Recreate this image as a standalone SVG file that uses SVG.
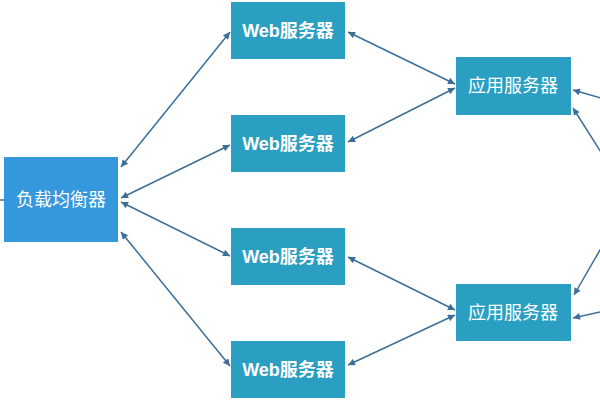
<svg xmlns="http://www.w3.org/2000/svg" width="600" height="400" viewBox="0 0 600 400">
<style>
.box{fill:#2b9fc2;}
.lb{fill:#3597dc;}
.t{font-family:"Liberation Sans","Noto Sans CJK SC",sans-serif;font-size:18px;fill:#ffffff;text-anchor:middle;dominant-baseline:central;font-weight:bold;}
.t2{font-weight:normal;}
.c line{stroke:#3b6f9a;stroke-width:1.5;fill:none;marker-end:url(#ah);marker-start:url(#ah);}
.c line.one{marker-start:none;}
</style>
<defs>
<marker id="ah" viewBox="0 0 10 10" refX="10" refY="5" markerWidth="10" markerHeight="7" markerUnits="userSpaceOnUse" orient="auto-start-reverse">
<path d="M0,0 L10,5 L0,10 z" fill="#3b6f9a"/>
</marker>
</defs>
<rect width="600" height="400" fill="#ffffff"/>
<g class="c" id="connectors">
<line x1="121" y1="167" x2="230" y2="32"/>
<line x1="121" y1="198" x2="230" y2="145"/>
<line x1="121" y1="202" x2="230" y2="256"/>
<line x1="121" y1="232" x2="230" y2="366"/>
<line x1="348" y1="32" x2="455" y2="84"/>
<line x1="348" y1="142" x2="455" y2="88"/>
<line x1="348" y1="257" x2="455" y2="310"/>
<line x1="348" y1="365" x2="455" y2="315"/>
<line class="one" x1="604" y1="99" x2="573" y2="90"/>
<line class="one" x1="604" y1="157" x2="573" y2="108"/>
<line class="one" x1="604" y1="243" x2="574" y2="295"/>
<line class="one" x1="604" y1="311" x2="573" y2="318"/>
<line x1="-2" y1="200" x2="4" y2="200" style="marker-start:none;marker-end:none"/>
</g>
<g id="lb"><rect class="lb" x="4" y="157" width="114" height="85"/><text class="t t2" x="61" y="200">负载均衡器</text></g>
<g id="web1"><rect class="box" x="231" y="2" width="114" height="57"/><text class="t" x="288" y="31">Web服务器</text></g>
<g id="web2"><rect class="box" x="231" y="115" width="114" height="57"/><text class="t" x="288" y="144">Web服务器</text></g>
<g id="web3"><rect class="box" x="231" y="228" width="114" height="57"/><text class="t" x="288" y="257">Web服务器</text></g>
<g id="web4"><rect class="box" x="231" y="341" width="114" height="57"/><text class="t" x="288" y="370">Web服务器</text></g>
<g id="app1"><rect class="box" x="456" y="57" width="115" height="58"/><text class="t t2" x="513" y="86">应用服务器</text></g>
<g id="app2"><rect class="box" x="456" y="284" width="115" height="57"/><text class="t t2" x="513" y="313">应用服务器</text></g>
</svg>
